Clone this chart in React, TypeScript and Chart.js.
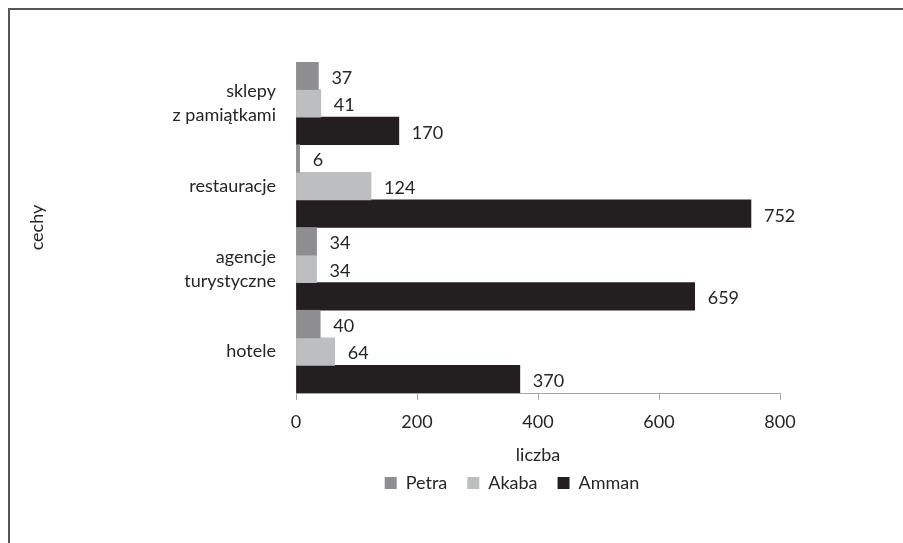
import React, { useEffect, useRef } from 'react';
import { Chart, registerables } from 'chart.js';

Chart.register(...registerables);

const categories: (string | string[])[] = [['sklepy', 'z pamiątkami'], 'restauracje', ['agencje', 'turystyczne'], 'hotele'];
const seriesNames = ['Petra', 'Akaba', 'Amman'];
const petraValues = [37, 6, 34, 40];
const akabaValues = [41, 124, 34, 64];
const ammanValues = [170, 752, 659, 370];
const xTickValues = [0, 200, 400, 600, 800];
const seriesColors = ['#8e8e90', '#bdbec0', '#231f20'];
const xTitle = 'liczba';
const yTitle = 'cechy';

const FONT = 'Lato';
const FS = 18;
const TEXT = '#262626';
const AXIS = '#a6a6a6';

const framePlugin = {
  id: 'frame',
  beforeDraw(chart: any) {
    const ctx = chart.ctx;
    ctx.save();
    ctx.fillStyle = '#ffffff';
    ctx.fillRect(0, 0, chart.width, chart.height);
    ctx.fillStyle = '#555555';
    ctx.fillRect(8, 8, 2, chart.height - 8);
    ctx.fillRect(8, 8, chart.width - 8, 2);
    ctx.restore();
  },
};

// centre the legend under the region the reference uses
const legendShiftPlugin = {
  id: 'legendShift',
  afterLayout(chart: any) {
    const lg = chart.legend;
    if (!lg) return;
    lg.left = 244;
    lg.right = chart.chartArea.right;
    lg.width = lg.right - lg.left;
  },
};

const dataLabelPlugin = {
  id: 'dataLabels',
  afterDatasetsDraw(chart: any) {
    const ctx = chart.ctx;
    ctx.save();
    ctx.font = `${FS}px ${FONT}`;
    ctx.fillStyle = TEXT;
    ctx.textAlign = 'left';
    ctx.textBaseline = 'middle';
    chart.data.datasets.forEach((ds: any, i: number) => {
      const meta = chart.getDatasetMeta(i);
      meta.data.forEach((el: any, j: number) => {
        ctx.fillText(String(ds.data[j]), el.x + 13, el.y + 2);
      });
    });
    ctx.restore();
  },
};

export default function App() {
  const ref = useRef<HTMLCanvasElement | null>(null);
  useEffect(() => {
    if (!ref.current) return;
    const valuesList = [petraValues, akabaValues, ammanValues];
    const chart = new Chart(ref.current, {
      type: 'bar',
      data: {
        labels: categories,
        datasets: seriesNames.map((name, i) => ({
          label: name,
          data: valuesList[i],
          backgroundColor: seriesColors[i],
          borderWidth: 0,
          categoryPercentage: 1,
          barPercentage: 1,
        })),
      },
      options: {
        indexAxis: 'y',
        animation: false,
        responsive: false,
        devicePixelRatio: 1,
        layout: { padding: { left: 10, right: 123, top: 62, bottom: 41 } },
        plugins: {
          tooltip: { enabled: false },
          legend: {
            position: 'bottom',
            labels: {
              boxWidth: 12,
              boxHeight: 12,
              padding: 20,
              color: TEXT,
              font: { family: FONT, size: FS },
            },
          },
        },
        scales: {
          x: {
            min: 0,
            max: 800,
            afterBuildTicks: (scale: any) => {
              scale.ticks = xTickValues.map((v) => ({ value: v }));
            },
            grid: { drawOnChartArea: false, drawTicks: true, tickLength: 7, color: AXIS },
            border: { display: true, color: AXIS, width: 1 },
            ticks: { padding: 11.7, color: TEXT, font: { family: FONT, size: FS } },
            title: {
              display: true,
              text: xTitle,
              color: TEXT,
              font: { family: FONT, size: FS },
              padding: { top: -0.6, bottom: -12 },
            },
          },
          y: {
            afterFit: (scale: any) => {
              scale.width = 286;
            },
            grid: { display: false, drawTicks: false },
            border: { display: true, color: AXIS, width: 1 },
            ticks: { padding: 20, color: TEXT, font: { family: FONT, size: FS, lineHeight: 1.33 } },
            title: {
              display: true,
              text: yTitle,
              color: TEXT,
              font: { family: FONT, size: FS },
              padding: { top: 16, bottom: 0 },
            },
          },
        },
      },
      plugins: [framePlugin, legendShiftPlugin, dataLabelPlugin],
    } as any);
    return () => chart.destroy();
  }, []);
  return (
    <canvas
      ref={ref}
      width={903}
      height={543}
      style={{ position: 'fixed', left: 0, top: 0, width: 903, height: 543 }}
    />
  );
}
